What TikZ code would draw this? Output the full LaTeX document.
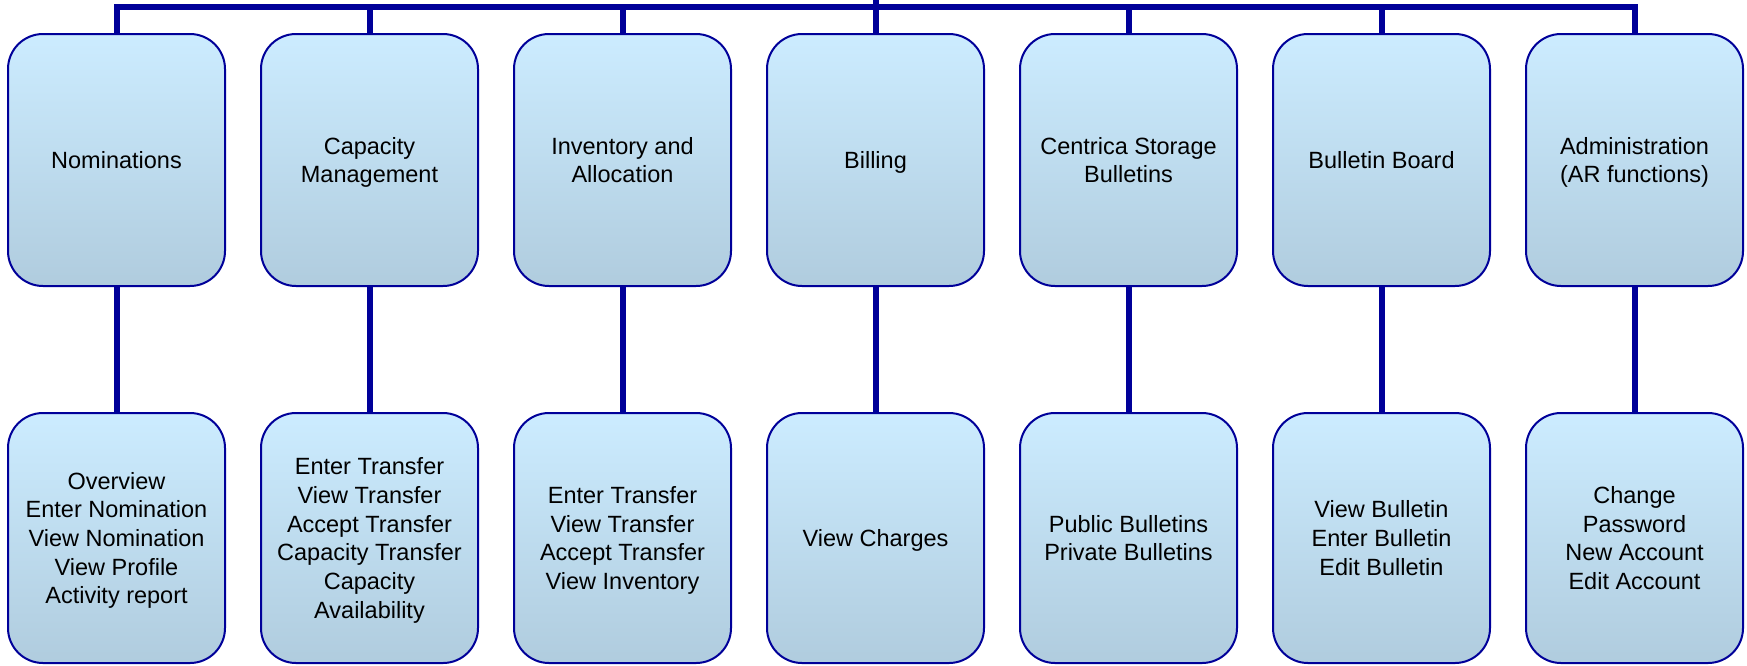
\documentclass[tikz,border=0pt]{standalone}
\usepackage{fontspec}
\setmainfont{Liberation Sans}
\definecolor{boxline}{RGB}{0,0,153}
\definecolor{boxtop}{RGB}{204,236,255}
\definecolor{boxbot}{RGB}{176,204,222}
\begin{document}
\begin{tikzpicture}[x=1pt,y=-1pt,
  box/.style={draw=boxline, line width=2pt, rounded corners=35pt, top color=boxtop, bottom color=boxbot,
    minimum width=217pt, align=center, font=\fontsize{23.5}{28.7}\selectfont, inner sep=0pt, text depth=0pt},
  topbox/.style={box, minimum height=252pt},
  botbox/.style={box, minimum height=250pt},
  conn/.style={draw=boxline, line width=6pt}]
\useasboundingbox (0,0) rectangle (1747,665);
\coordinate (root) at (875.5,0);
\coordinate (barref) at (0,7);
% top row
\node[topbox] (t1) at (116.5,160) {Nominations};
\node[topbox] (t2) at (369.5,160) {Capacity\\Management};
\node[topbox] (t3) at (622.5,160) {Inventory and\\Allocation};
\node[topbox] (t4) at (875.5,160) {Billing};
\node[topbox] (t5) at (1128.5,160) {Centrica Storage\\Bulletins};
\node[topbox] (t6) at (1381.5,160) {Bulletin Board};
\node[topbox] (t7) at (1634.5,160) {Administration\\(AR functions)};
% bottom row
\node[botbox] (b1) at (116.5,538) {Overview\\Enter Nomination\\View Nomination\\View Profile\\Activity report};
\node[botbox] (b2) at (369.5,538) {Enter Transfer\\View Transfer\\Accept Transfer\\Capacity Transfer\\Capacity\\Availability};
\node[botbox] (b3) at (622.5,538) {Enter Transfer\\View Transfer\\Accept Transfer\\View Inventory};
\node[botbox] (b4) at (875.5,538) {View Charges};
\node[botbox] (b5) at (1128.5,538) {Public Bulletins\\Private Bulletins};
\node[botbox] (b6) at (1381.5,538) {View Bulletin\\Enter Bulletin\\Edit Bulletin};
\node[botbox] (b7) at (1634.5,538) {Change\\Password\\New Account\\Edit Account};
% connectors
\draw[conn] (t1.north) -- (t1.north |- barref) -- (t7.north |- barref) -- (t7.north);
\foreach \i in {2,3,5,6} {\draw[conn] (t\i.north |- barref) -- (t\i.north);}
\draw[conn] (root) -- (t4.north);
\foreach \i in {1,...,7} {\draw[conn] (t\i.south) -- (b\i.north);}
\end{tikzpicture}
\end{document}
